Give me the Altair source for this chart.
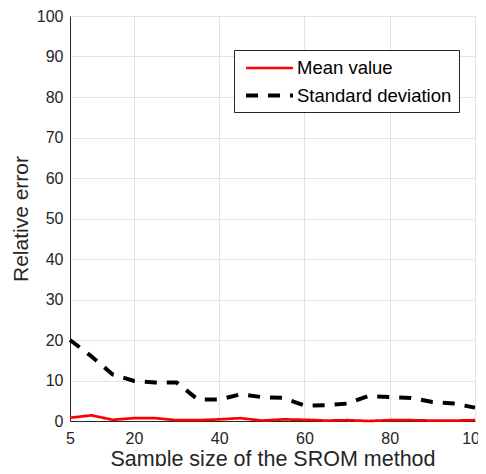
import altair as alt
import pandas as pd

sample_size = [5, 10, 15, 20, 25, 30, 35, 40, 45, 50, 55, 60, 65, 70, 75, 80, 85, 90, 95, 100]
mean_err = [0.8, 1.4, 0.3, 0.7, 0.7, 0.2, 0.2, 0.4, 0.7, 0.1, 0.4, 0.3, 0.1, 0.2, 0.0, 0.2, 0.2, 0.1, 0.1, 0.2]
std_err = [20.0, 16.0, 11.5, 9.9, 9.5, 9.5, 5.3, 5.3, 6.6, 5.9, 5.7, 3.8, 3.9, 4.3, 6.2, 5.9, 5.7, 4.7, 4.3, 3.3]
series_names = ["Mean value", "Standard deviation"]
x_ticks = [5, 20, 40, 60, 80, 100]
y_ticks = [0, 10, 20, 30, 40, 50, 60, 70, 80, 90, 100]

rows = []
for x, m, s in zip(sample_size, mean_err, std_err):
    rows.append({"x": x, "y": m, "series": series_names[0]})
    rows.append({"x": x, "y": s, "series": series_names[1]})
df = pd.DataFrame(rows)

FONT = "Liberation Sans"
INK = "#262626"

legend = alt.Legend(title=None, orient="none", legendX=164, legendY=34,
                    symbolType="M-0.68,0H4.26", symbolSize=361,
                    labelOffset=33,
                    labelFontSize=18.5, labelFont=FONT, labelColor="#000000",
                    rowPadding=6, padding=7,
                    strokeColor=INK, fillColor="white",
                    cornerRadius=0)

chart = alt.Chart(df).mark_line(strokeCap="butt").encode(
    x=alt.X("x:Q",
            scale=alt.Scale(domain=[5, 100], nice=False, zero=False),
            axis=alt.Axis(values=x_ticks, title="Sample size of the SROM method",
                          grid=True, gridColor="#e3e3e3", ticks=False,
                          labelPadding=9, titlePadding=2,
                          labelFontSize=16, titleFontSize=21.5,
                          labelColor=INK, titleColor=INK,
                          domainColor=INK, labelFlush=False,
                          labelFont=FONT, titleFont=FONT, titleFontWeight="normal")),
    y=alt.Y("y:Q",
            scale=alt.Scale(domain=[0, 100], nice=False),
            axis=alt.Axis(values=y_ticks, title="Relative error",
                          grid=True, gridColor="#e3e3e3", ticks=False,
                          labelPadding=7, titlePadding=5,
                          labelFontSize=16, titleFontSize=21,
                          labelColor=INK, titleColor=INK,
                          domainColor=INK,
                          labelFont=FONT, titleFont=FONT, titleFontWeight="normal")),
    color=alt.Color("series:N",
                    scale=alt.Scale(domain=series_names, range=["#ff0000", "#000000"]),
                    legend=legend),
    strokeDash=alt.StrokeDash("series:N",
                              scale=alt.Scale(domain=series_names, range=[[1, 0], [12, 10]]),
                              legend=legend),
    strokeWidth=alt.StrokeWidth("series:N",
                                scale=alt.Scale(domain=series_names, range=[2.7, 4]),
                                legend=legend),
).properties(
    width=405, height=405,
    autosize=alt.AutoSizeParams(type="none"),
    padding={"left": 62, "top": 8, "right": 3, "bottom": 45},
).configure_view(
    stroke=INK, strokeWidth=1
).configure(background="white")

chart.save("out.html", embed_options={"renderer": "svg", "actions": False})
